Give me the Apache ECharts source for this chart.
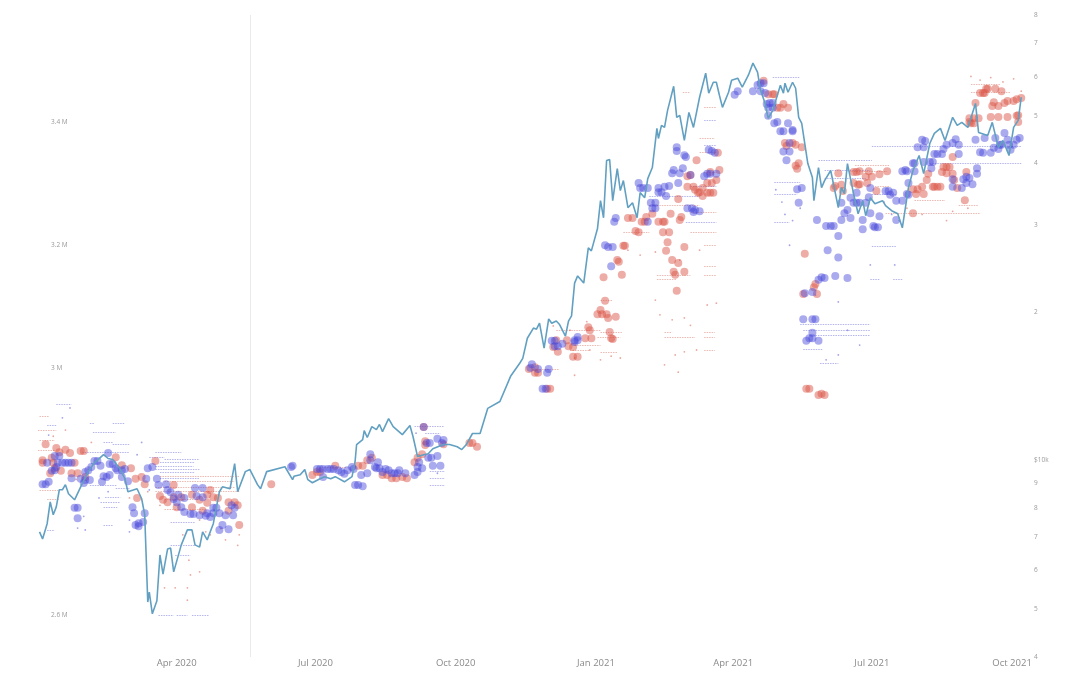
<!DOCTYPE html>
<html>
<head>
<meta charset="utf-8">
<title>Bitcoin price and holder cohorts</title>
<script src="https://cdn.jsdelivr.net/npm/echarts@6/dist/echarts.min.js"></script>
<style>html,body{margin:0;padding:0;background:#fff}#chart{width:1081px;height:700px}</style>
</head>
<body>
<div id="chart"></div>
<script>
// All x values are days since 2020-01-01.
const monthTicks = [91, 182, 274, 366, 456, 547, 639];
const monthLabels = ['Apr 2020', 'Jul 2020', 'Oct 2020', 'Jan 2021', 'Apr 2021', 'Jul 2021', 'Oct 2021'];
const halvingDay = 139;
const leftTicks = [2.6, 3, 3.2, 3.4];
const rightTicks = [4000, 5000, 6000, 7000, 8000, 9000, 10000, 20000, 30000, 40000, 50000, 60000, 70000, 80000];
const rightLabels = ['4', '5', '6', '7', '8', '9', '$10k', '2', '3', '4', '5', '6', '7', '8'];

// Closing price in dollars, right axis.
const priceLine = [[1,7170],[3,6940],[6,7450],[8,8250],[10,7770],[12,8060],[14,8730],[16,8730],[18,8940],[20,8570],[24,8330],[29,8980],[33,9500],[37,9900],[43,10280],[46,10100],[49,10050],[54,9600],[57,9190],[59,8650],[65,8770],[68,8370],[70,7770],[72,5170],[73,5415],[75,4892],[78,5200],[80,6440],[82,5890],[85,6620],[87,6650],[89,5950],[94,6750],[98,7240],[101,7240],[103,6750],[106,6680],[108,7170],[111,6910],[115,7450],[119,8650],[121,8850],[126,8770],[129,9860],[131,8650],[136,9500],[139,9590],[144,8940],[146,8770],[150,9500],[162,9720],[167,9150],[168,9300],[172,9360],[175,9590],[177,9150],[180,9020],[185,9190],[188,9280],[192,9190],[195,9280],[201,9060],[206,9280],[208,9950],[209,10780],[213,11030],[214,11500],[216,11140],[219,11720],[222,11560],[224,11840],[226,11450],[230,12170],[233,11720],[239,11290],[244,11780],[246,11190],[249,10190],[253,10280],[256,10330],[259,10570],[266,10780],[270,10780],[275,10670],[278,10530],[281,10780],[285,11350],[290,11350],[293,12170],[295,12760],[303,13180],[310,14820],[316,15750],[318,16120],[321,17700],[325,18560],[327,18470],[329,18990],[332,16900],[335,19370],[337,18990],[340,19180],[342,18900],[346,17880],[348,19180],[350,19650],[352,22900],[354,23680],[358,22900],[361,26990],[363,26610],[367,29500],[369,33640],[371,31060],[373,40570],[375,40760],[377,33640],[380,39080],[382,35250],[384,36940],[387,32550],[390,33320],[393,31060],[395,34920],[398,34110],[400,37290],[403,39260],[406,47130],[407,44970],[409,47810],[411,47340],[413,51260],[417,57360],[419,49620],[421,50080],[424,44550],[427,50790],[430,47340],[434,54500],[438,60970],[440,55530],[443,58450],[445,58450],[447,55000],[449,51990],[453,55790],[455,59000],[459,59560],[462,57120],[466,60410],[469,63900],[472,61260],[474,56300],[477,52960],[479,49400],[482,51260],[487,57660],[489,55530],[490,58200],[492,55790],[495,58450],[497,56840],[499,49620],[501,48240],[503,43920],[505,40000],[508,37460],[509,33640],[512,39260],[514,35750],[516,36940],[520,38720],[525,32550],[527,35750],[529,34750],[531,40000],[535,34750],[538,31650],[541,33640],[543,31360],[546,34110],[549,33170],[554,33640],[556,32860],[560,32100],[564,31650],[567,29640],[571,35750],[574,38720],[578,41530],[581,38170],[585,43920],[588,46040],[592,47130],[595,44550],[600,49620],[603,47810],[606,48470],[610,47340],[615,52960],[617,46260],[623,45610],[626,48470],[630,43100],[633,44550],[637,41530],[640,47340],[643,48930],[645,54500]];

// Large dots, in millions on the left axis.
const redDots = [[3,2.851],[3,2.847],[5,2.877],[12,2.871],[14,2.864],[18,2.868],[21,2.863],[9,2.855],[10,2.847],[11,2.838],[8,2.830],[15,2.834],[22,2.830],[26,2.830],[31,2.824],[28,2.866],[30,2.866],[24,2.847],[51,2.856],[55,2.843],[61,2.838],[64,2.821],[68,2.824],[70,2.812],[65,2.790],[77,2.850],[80,2.793],[82,2.787],[89,2.791],[94,2.791],[101,2.795],[113,2.803],[115,2.791],[118,2.790],[125,2.783],[129,2.783],[131,2.778],[125,2.769],[108,2.769],[111,2.795],[132,2.746],[101,2.775],[91,2.775],[85,2.783],[106,2.787],[111,2.782],[89,2.811],
[153,2.812],[180,2.827],[183,2.832],[185,2.832],[195,2.842],[210,2.842],[213,2.842],[216,2.851],[219,2.855],[226,2.827],[229,2.827],[232,2.822],[235,2.822],[239,2.824],[242,2.822],[247,2.848],[249,2.855],[252,2.861],[254,2.882],[254,2.876],[266,2.877],[283,2.879],[285,2.879],[288,2.873],[253,2.905],
[322,2.999],[326,2.993],[328,2.993],[326,3.002],[336,2.967],[334,2.967],[338,3.035],[341,3.027],[347,3.046],[340,3.046],[348,3.036],[351,3.035],[351,3.019],[354,3.019],[359,3.049],[361,3.067],[362,3.062],[363,3.049],[369,3.095],[367,3.088],[370,3.088],[373,3.088],[374,3.082],[379,3.084],[372,3.110],[375,3.059],[376,3.049],[377,3.048],[371,3.148],[383,3.152],[380,3.176],[381,3.173],[385,3.199],[384,3.199],[387,3.244],[390,3.244],[396,3.238],[399,3.246],[398,3.238],[403,3.251],[407,3.238],[410,3.238],[411,3.238],[392,3.223],[394,3.221],[410,3.221],[414,3.221],[413,3.205],[412,3.191],[416,3.176],[420,3.171],[417,3.157],[418,3.152],[424,3.157],[419,3.126],[424,3.197],[422,3.246],[421,3.241],[420,3.275],[415,3.251],[432,3.338],[426,3.312],[428,3.314],[426,3.295],[430,3.295],[431,3.290],[433,3.285],[436,3.280],[434,3.286],[436,3.293],[439,3.301],[442,3.301],[445,3.306],[447,3.322],[441,3.319],[439,3.285],[441,3.285],[443,3.285],[446,3.350],
[476,3.467],[479,3.445],[482,3.445],[483,3.445],[485,3.423],[489,3.429],[487,3.423],[492,3.423],[490,3.366],[491,3.361],[495,3.366],[497,3.363],[501,3.359],[499,3.333],[497,3.329],[498,3.324],[503,3.186],[509,3.132],[510,3.137],[502,3.121],[511,3.121],[504,2.967],[506,2.967],[512,2.957],[514,2.959],[516,2.957],[525,3.317],[522,3.293],[523,3.296],[527,3.298],[528,3.288],[535,3.319],[537,3.319],[539,3.320],[535,3.301],[538,3.298],[544,3.301],[543,3.311],[547,3.311],[552,3.315],[557,3.320],[550,3.288],[545,3.320],[539,3.299],
[574,3.291],[577,3.291],[580,3.295],[576,3.283],[581,3.283],[584,3.316],[583,3.306],[587,3.295],[588,3.295],[590,3.295],[592,3.295],[594,3.327],[596,3.327],[598,3.327],[593,3.319],[596,3.317],[600,3.316],[601,3.306],[600,3.343],[609,3.319],[603,3.293],[608,3.273],[611,3.406],[611,3.400],[615,3.431],[614,3.406],[617,3.406],[614,3.398],[612,3.398],[618,3.447],[620,3.447],[623,3.454],[622,3.454],[621,3.447],[628,3.454],[632,3.450],[627,3.432],[630,3.426],[626,3.426],[636,3.434],[634,3.431],[640,3.434],[642,3.437],[645,3.439],[643,3.411],[625,3.408],[630,3.408],[636,3.408],[642,3.410],[643,3.400],[574,3.252]];

const blueDots = [[3,2.812],[5,2.812],[7,2.816],[6,2.847],[9,2.834],[11,2.835],[12,2.840],[13,2.847],[16,2.847],[18,2.847],[20,2.847],[22,2.847],[11,2.858],[14,2.858],[22,2.822],[28,2.821],[31,2.819],[30,2.814],[34,2.819],[31,2.832],[33,2.835],[35,2.840],[37,2.850],[39,2.850],[41,2.842],[47,2.845],[49,2.845],[46,2.863],[51,2.838],[52,2.835],[55,2.835],[43,2.825],[47,2.827],[42,2.816],[45,2.824],[57,2.837],[55,2.824],[59,2.817],[24,2.774],[26,2.774],[26,2.757],[62,2.775],[63,2.765],[64,2.746],[66,2.744],[69,2.751],[66,2.749],[70,2.765],[72,2.838],[75,2.840],[71,2.821],[78,2.821],[79,2.811],[84,2.812],[85,2.803],[87,2.799],[89,2.788],[91,2.783],[94,2.775],[96,2.767],[100,2.764],[102,2.764],[106,2.762],[110,2.761],[113,2.759],[115,2.774],[117,2.774],[119,2.765],[123,2.762],[128,2.762],[127,2.778],[129,2.774],[119,2.738],[125,2.739],[121,2.746],[96,2.790],[104,2.793],[108,2.791],[103,2.806],[108,2.806],[115,2.765],[111,2.765],[92,2.795],
[167,2.842],[166,2.840],[183,2.837],[185,2.837],[187,2.837],[190,2.837],[192,2.837],[194,2.837],[197,2.835],[199,2.832],[201,2.829],[203,2.835],[206,2.840],[207,2.837],[187,2.824],[208,2.811],[210,2.811],[213,2.809],[212,2.827],[216,2.830],[218,2.861],[218,2.851],[221,2.840],[223,2.848],[224,2.838],[222,2.838],[228,2.837],[226,2.832],[230,2.835],[232,2.830],[234,2.830],[236,2.830],[237,2.835],[241,2.830],[250,2.848],[249,2.840],[252,2.838],[249,2.832],[247,2.827],[255,2.879],[257,2.879],[262,2.886],[266,2.884],[265,2.879],[256,2.855],[258,2.855],[259,2.842],[264,2.842],[262,2.858],[253,2.905],
[324,3.007],[323,3.001],[328,2.999],[334,2.993],[335,2.999],[331,2.967],[333,2.967],[337,3.045],[339,3.045],[344,3.040],[341,3.036],[339,3.036],[352,3.046],[354,3.051],[354,3.046],[352,3.043],[372,3.200],[374,3.197],[377,3.197],[376,3.166],[378,3.238],[379,3.244],[400,3.238],[394,3.301],[395,3.293],[397,3.293],[400,3.293],[402,3.269],[403,3.260],[405,3.260],[405,3.269],[407,3.293],[411,3.295],[414,3.296],[409,3.286],[407,3.286],[412,3.280],[419,3.359],[419,3.353],[424,3.346],[425,3.343],[417,3.322],[416,3.317],[421,3.317],[423,3.325],[428,3.314],[426,3.260],[429,3.260],[431,3.257],[430,3.254],[434,3.255],[420,3.301],[440,3.355],[442,3.353],[444,3.350],[437,3.312],[439,3.316],[441,3.316],[445,3.316],
[457,3.444],[459,3.450],[469,3.450],[472,3.460],[474,3.463],[476,3.463],[474,3.450],[477,3.447],[478,3.429],[479,3.423],[479,3.410],
[480,3.431],[482,3.431],[482,3.423],[483,3.398],[485,3.400],[487,3.385],[489,3.385],[492,3.398],[495,3.387],[495,3.385],[493,3.366],[489,3.352],[493,3.352],[491,3.338],[498,3.291],[501,3.293],[499,3.269],[511,3.241],[517,3.231],[520,3.231],[522,3.231],[527,3.241],[533,3.244],[525,3.215],[518,3.192],[525,3.180],[541,3.226],[541,3.241],[548,3.231],[549,3.229],[551,3.229],[563,3.241],[552,3.247],[529,3.252],[531,3.257],[527,3.269],[546,3.252],
[502,3.080],[508,3.080],[510,3.080],[508,3.058],[506,3.049],[512,3.045],[504,3.045],[508,3.049],[503,3.122],[514,3.148],[516,3.147],[512,3.144],[523,3.150],[531,3.147],[508,3.124],
[537,3.285],[533,3.277],[535,3.269],[537,3.269],[539,3.269],[543,3.269],[545,3.278],[546,3.293],[556,3.288],[558,3.288],[559,3.282],[561,3.285],[563,3.272],[567,3.272],[571,3.282],[567,3.320],[570,3.320],[575,3.320],[577,3.359],[581,3.359],[580,3.371],[582,3.369],[581,3.335],[585,3.335],[587,3.335],[586,3.325],[588,3.348],[590,3.348],[593,3.348],[594,3.356],[596,3.363],[600,3.366],[602,3.372],[604,3.363],[604,3.348],[616,3.325],[616,3.316],[613,3.299],[611,3.309],[609,3.311],[607,3.307],[609,3.301],[606,3.293],[600,3.307],[600,3.295],
[570,3.283],[571,3.301],[569,3.322],[574,3.333],[575,3.333],[618,3.351],[620,3.350],[625,3.350],[627,3.358],[628,3.374],[631,3.363],[630,3.356],[636,3.371],[634,3.382],[637,3.363],[640,3.363],[642,3.371],[644,3.374],[632,3.363],[638,3.355],[621,3.374],[615,3.371]];

// Sparse rows of tiny marks: [first day, last day, level in millions].
const redRows = [[1,7,2.923],[0,12,2.899],[1,11,2.884],[0,11,2.868],[1,14,2.803],[6,14,2.787],[80,132,2.825],[83,129,2.817],[77,132,2.801],[77,129,2.808],[83,106,2.787],[83,110,2.772],[183,203,2.840],[369,383,3.059],[411,416,3.059],[437,444,3.059],[367,382,3.051],[411,431,3.051],[437,444,3.051],[349,362,3.030],[437,444,3.030],[329,342,2.999],[340,369,3.062],[352,369,3.038],[369,380,3.027],[369,377,3.111],[437,445,3.166],[406,428,3.152],[437,445,3.152],[406,419,3.145],[437,445,3.200],[384,401,3.221],[428,445,3.221],[401,434,3.265],[428,445,3.254],[437,445,3.424],[434,444,3.374],[434,445,3.351],[437,445,3.319],[423,428,3.449],[556,618,3.252],[532,557,3.320],[536,559,3.330],[549,559,3.296],[575,595,3.273],[604,617,3.265],[612,638,3.449],[612,631,3.462]];
const blueRows = [[12,22,2.942],[6,12,2.908],[34,37,2.911],[49,57,2.911],[36,51,2.897],[43,49,2.881],[49,60,2.877],[29,60,2.864],[77,94,2.864],[73,83,2.856],[83,106,2.853],[80,103,2.848],[77,102,2.842],[77,106,2.837],[80,103,2.832],[80,106,2.822],[34,52,2.811],[51,60,2.806],[41,54,2.783],[44,54,2.791],[43,52,2.775],[43,49,2.746],[6,11,2.738],[87,103,2.751],[87,103,2.713],[90,100,2.697],[79,89,2.600],[91,98,2.600],[101,112,2.600],[247,266,2.907],[254,264,2.895],[257,267,2.834],[257,267,2.822],[257,267,2.811],[425,445,3.238],[428,445,3.295],[401,434,3.280],[437,445,3.363],[483,498,3.282],[483,500,3.303],[483,493,3.238],[482,500,3.473],[512,547,3.338],[516,546,3.322],[516,543,3.309],[547,563,3.282],[547,645,3.361],[585,645,3.333],[547,563,3.199],[500,546,3.071],[502,546,3.062],[510,546,3.054],[502,515,3.032],[513,525,3.009],[546,552,3.145],[561,567,3.145],[437,445,3.402]];

// Isolated tiny marks.
const redSpecks = [[338,3.069],[349,3.062],[360,3.076],[352,3.017],[362,3.03],[352,2.989],[369,3.014],[376,3.02],[382,3.017],[408,3.087],[416,3.079],[424,3.082],[428,3.07],[418,3.022],[424,3.027],[432,3.03],[411,3.006],[420,2.994],[375,3.2],[387,3.192],[395,3.184],[405,3.189],[434,3.192],[421,3.176],[439,3.103],[445,3.106],[405,3.111],[80,2.778],[106,2.754],[113,2.73],[106,2.713],[110,2.735],[132,2.73],[123,2.722],[131,2.713],[83,2.644],[90,2.644],[98,2.644],[98,2.624],[100,2.665],[106,2.67],[99,2.689],[612,3.474],[618,3.468],[625,3.472],[633,3.465],[640,3.47],[645,3.45],[600,3.255],[596,3.24],[610,3.26],[570,3.26],[580,3.25],[10,2.89],[18,2.9],[25,2.82],[35,2.88],[60,2.79],[72,2.8],[95,2.73],[120,2.74]];
const blueSpecks = [[7,2.892],[21,2.936],[16,2.920],[31,2.738],[26,2.741],[30,2.76],[60,2.754],[60,2.735],[73,2.803],[525,3.108],[510,3.119],[546,3.168],[562,3.168],[531,3.062],[539,3.038],[517,3.014],[525,3.022],[484,3.29],[488,3.27],[490,3.25],[495,3.24],[500,3.26],[493,3.2],[555,3.27],[560,3.25],[565,3.24],[248,2.895],[262,2.83],[40,2.79],[46,2.8],[65,2.86],[68,2.88]];

const chart = echarts.init(document.getElementById('chart'));

function rowSeries(rows, color) {
  return {
    type: 'lines', coordinateSystem: 'cartesian2d', xAxisIndex: 0, yAxisIndex: 0, z: 2,
    silent: true,
    lineStyle: { color: color, width: 1, type: [1.5, 1], opacity: 0.5 },
    data: rows.map(r => ({ coords: [[r[0], r[2]], [r[1], r[2]]] }))
  };
}
function dotSeries(points, color, size, z) {
  return {
    type: 'scatter', xAxisIndex: 0, yAxisIndex: 0, z: z, silent: true,
    symbolSize: size, itemStyle: { color: color }, data: points
  };
}

chart.setOption({
  animation: false,
  textStyle: { fontFamily: '"Open Sans", sans-serif' },
  grid: { left: 38, right: 59, top: 15, bottom: 43 },
  xAxis: {
    type: 'value', min: 0, max: 645.5,
    splitLine: { show: false }, axisLine: { show: false }, axisTick: { show: false },
    axisLabel: {
      customValues: monthTicks, color: '#8a8a8a', fontSize: 9.5, margin: 1,
      formatter: v => monthLabels[monthTicks.indexOf(v)]
    }
  },
  yAxis: [{
    type: 'value', position: 'left', min: 2.5318, max: 3.5736,
    splitLine: { show: false }, axisLine: { show: false }, axisTick: { show: false },
    axisLabel: {
      inside: true, margin: 13, customValues: leftTicks, color: '#9a9a9a', fontSize: 6.5,
      formatter: v => v + ' M'
    }
  }, {
    type: 'log', position: 'right', logBase: 10, min: 4000, max: 80000,
    splitLine: { show: false }, axisLine: { show: false }, axisTick: { show: false },
    axisLabel: {
      customValues: rightTicks, color: '#9a9a9a', fontSize: 6.5, margin: 12, align: 'left',
      formatter: v => rightLabels[rightTicks.indexOf(Math.round(v))]
    }
  }],
  series: [
    rowSeries(redRows, '#d9776a'),
    rowSeries(blueRows, '#6f6fe0'),
    dotSeries(redSpecks, 'rgba(217,110,95,0.75)', 1.8, 2),
    dotSeries(blueSpecks, 'rgba(100,100,220,0.75)', 1.8, 2),
    dotSeries(redDots, 'rgba(218,88,72,0.62)', 8, 3),
    dotSeries(blueDots, 'rgba(72,72,218,0.58)', 8, 4),
    {
      type: 'line', xAxisIndex: 0, yAxisIndex: 1, z: 5, data: priceLine,
      showSymbol: false, silent: true,
      lineStyle: { color: '#62a0c2', width: 1.6 },
      markLine: {
        silent: true, symbol: 'none', label: { show: false },
        lineStyle: { color: '#eaeaea', width: 1, type: 'solid' },
        data: [{ xAxis: halvingDay }]
      }
    }
  ]
});
</script>
</body>
</html>
